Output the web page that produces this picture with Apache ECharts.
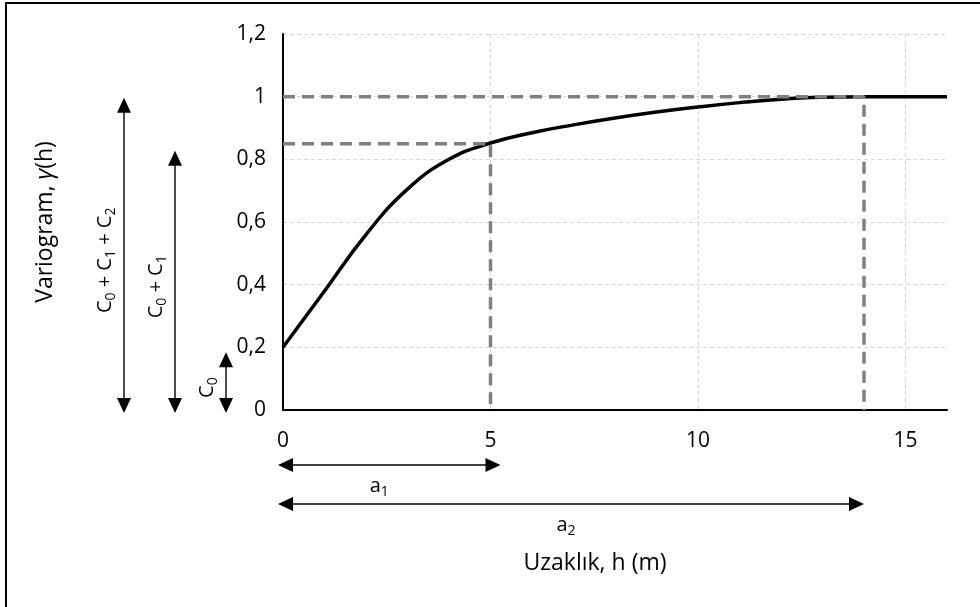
<!DOCTYPE html>
<html><head><meta charset="utf-8">
<script src="https://cdn.jsdelivr.net/npm/echarts@6/dist/echarts.min.js"></script>
<style>html,body{margin:0;padding:0;background:#fff}#c{width:980px;height:607px}</style>
</head><body><div id="c"></div>
<script>
// ---- data ----
const distance = [0, 1, 2, 3, 4, 5, 6, 7, 8, 9, 10, 11, 12, 13, 14, 15, 16];
const gamma    = [0.2, 0.38, 0.56, 0.705, 0.80, 0.852, 0.885, 0.91, 0.932, 0.951, 0.967, 0.981, 0.992, 0.998, 1, 1, 1];
const nugget = 0.2;   // C0
const sill1  = 0.85;  // C0 + C1
const sill2  = 1;     // C0 + C1 + C2
const range1 = 5;     // a1
const range2 = 14;    // a2
const xTitle = 'Uzaklık, h (m)';
const yTitle = 'Variogram, {i|γ}(h)';
const sillLabels = ['{n|C}{s|0}{n| + C}{s|1}{n| + C}{s|2}', '{n|C}{s|0}{n| + C}{s|1}', '{n|C}{s|0}'];
const rangeLabels = ['{n|a}{s|1}', '{n|a}{s|2}'];

const FONT = 'Open Sans';
const chart = echarts.init(document.getElementById('c'), null, {renderer: 'canvas'});
const guideStyle = {color: '#808080', width: 3.5, type: [12, 7]};
const gridLine = {show: true, showMaxLine: false, lineStyle: {color: '#d9d9d9', type: [4, 3], width: 1}};
const fmtNum = v => String(Number(v.toFixed(1))).replace('.', ',');

chart.setOption({
  animation: false,
  backgroundColor: '#fff',
  grid: {left: 283, right: 33, top: 34, bottom: 197},
  xAxis: {
    type: 'value', min: 0, max: 16, interval: 5,
    axisLine: {show: true, lineStyle: {color: '#000', width: 2}},
    axisTick: {show: false},
    axisLabel: {fontFamily: FONT, fontSize: 21, color: '#000', margin: 21,
      formatter: v => (v === 16 ? '' : fmtNum(v))},
    splitLine: gridLine,
    name: xTitle, nameLocation: 'middle', nameGap: 142,
    nameTextStyle: {fontFamily: FONT, fontSize: 23, color: '#000', padding: [0, 40, 0, 0]}
  },
  yAxis: {
    type: 'value', min: 0, max: 1.2, interval: 0.2,
    axisLine: {show: true, lineStyle: {color: '#000', width: 2}},
    axisTick: {show: false},
    axisLabel: {fontFamily: FONT, fontSize: 21, color: '#000', margin: 17, formatter: fmtNum},
    splitLine: {show: true, lineStyle: {color: '#d9d9d9', type: [4, 3], width: 1}},
    name: yTitle, nameLocation: 'middle', nameGap: 226, nameRotate: 90,
    nameTextStyle: {fontFamily: FONT, fontSize: 23, color: '#000',
      rich: {i: {fontFamily: FONT, fontSize: 23, color: '#000', fontStyle: 'italic'}}}
  },
  series: [
    {type: 'line', data: distance.map((d, i) => [d, gamma[i]]), smooth: 0.45,
      symbol: 'none', lineStyle: {color: '#000', width: 3.5}, z: 3},
    {type: 'line', data: [[0, sill1], [range1, sill1], [range1, 0]], symbol: 'none',
      lineStyle: guideStyle, z: 4},
    {type: 'line', data: [[0, sill2], [range2, sill2], [range2, 0]], symbol: 'none',
      lineStyle: guideStyle, z: 4}
  ]
});

// ---- annotation arrows and labels ----
const px = (x, y) => chart.convertToPixel({gridIndex: 0}, [x, y]);
const [ax0, ay0] = px(0, 0);
function head(tx, ty, dx, dy) { // tip at (tx,ty), pointing in direction (dx,dy)
  const L = 15, W = 7;
  const bx = tx - dx * L, by = ty - dy * L;
  return {type: 'polygon', silent: true, shape: {points: [[tx, ty], [bx - dy * W, by + dx * W], [bx + dy * W, by - dx * W]]},
    style: {fill: '#000'}};
}
function arrow(x1, y1, x2, y2) {
  const len = Math.hypot(x2 - x1, y2 - y1), dx = (x2 - x1) / len, dy = (y2 - y1) / len;
  return [
    {type: 'line', silent: true, shape: {x1: x1 + dx * 10, y1: y1 + dy * 10, x2: x2 - dx * 10, y2: y2 - dy * 10},
      style: {stroke: '#000', lineWidth: 1.4}},
    head(x1, y1, -dx, -dy), head(x2, y2, dx, dy)
  ];
}
const rich = {
  n: {fontFamily: FONT, fontSize: 20, fill: '#000', lineHeight: 26, verticalAlign: 'middle'},
  s: {fontFamily: FONT, fontSize: 14, fill: '#000', lineHeight: 14, verticalAlign: 'bottom'}
};
function label(text, x, y, rot) {
  return {type: 'text', silent: true, x, y, rotation: rot || 0,
    style: {text, rich, align: 'center', verticalAlign: 'middle', font: '20px "Open Sans"', fill: '#000'}};
}
const g = [];
g.push({type: 'rect', silent: true, shape: {x: 6, y: 3, width: 1100, height: 800}, style: {fill: 'none', stroke: '#000', lineWidth: 2}});
// vertical sill arrows
const sills = [sill2, sill1, nugget];
const vx = [ax0 - 159, ax0 - 108, ax0 - 57];
const topOff = [1, 7, 5];
sills.forEach((s, i) => {
  const ty = px(0, s)[1] + topOff[i];
  g.push(...arrow(vx[i], ty, vx[i], ay0 + 3));
  g.push(label(sillLabels[i], vx[i] - 19, (ty + ay0 + 3) / 2 + 5, Math.PI / 2));
});
// horizontal range arrows
const ranges = [range1, range2];
const hy = [ay0 + 55, ay0 + 94];
const rightOff = [10, 0];
const labOff = [-10, -5];
ranges.forEach((r, i) => {
  const lx = ax0 - 5, rx = px(r, 0)[0] + rightOff[i];
  g.push(...arrow(lx, hy[i], rx, hy[i]));
  g.push(label(rangeLabels[i], (lx + rx) / 2 + labOff[i], hy[i] + 21, 0));
});
chart.setOption({graphic: {elements: g}});
</script>
</body></html>
